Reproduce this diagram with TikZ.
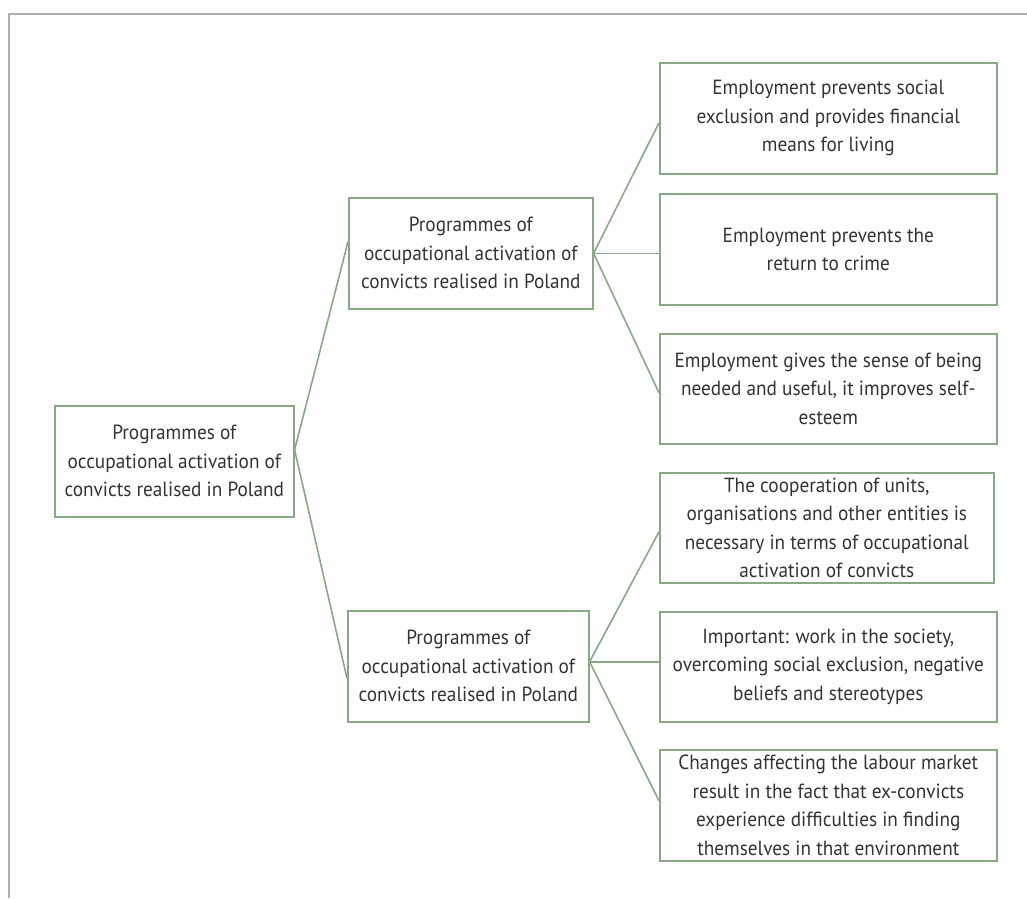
\documentclass[tikz,border=0pt]{standalone}
\usepackage{fontspec}
\setmainfont{PT Sans}[FakeStretch=0.94]
\definecolor{boxgreen}{RGB}{137,168,133}
\definecolor{txtgray}{RGB}{51,51,51}
\definecolor{framegray}{RGB}{175,175,175}
\begin{document}
\begin{tikzpicture}[x=1pt,y=-1pt,
  boxnode/.style={draw=boxgreen, line width=1.6pt, inner sep=0pt, anchor=north west,
    align=center, text=txtgray, font=\fontsize{20.5}{28.5}\selectfont},
  link/.style={draw=boxgreen, line width=1.6pt}]
\useasboundingbox (0,0) rectangle (1027,898);
\draw[framegray, line width=1.5pt] (1027,14) -- (9,14) -- (9,898);

\node[boxnode, minimum width=239pt, minimum height=111pt] (root) at (54,405)
  {Programmes of\\occupational activation of\\convicts realised in Poland};
\node[boxnode, minimum width=244pt, minimum height=111pt] (mid1) at (348,197)
  {Programmes of\\occupational activation of\\convicts realised in Poland};
\node[boxnode, minimum width=241pt, minimum height=111pt] (mid2) at (347,610)
  {Programmes of\\occupational activation of\\convicts realised in Poland};

\node[boxnode, minimum width=337pt, minimum height=111pt] (l1) at (659,62)
  {Employment prevents social\\exclusion and provides financial\\means for living};
\node[boxnode, minimum width=337pt, minimum height=111pt] (l2) at (659,193)
  {Employment prevents the\\return to crime};
\node[boxnode, minimum width=337pt, minimum height=110pt] (l3) at (659,333)
  {Employment gives the sense of being\\needed and useful, it improves self-\\esteem};
\node[boxnode, minimum width=334pt, minimum height=110pt] (l4) at (659,472)
  {The cooperation of units,\\organisations and other entities is\\necessary in terms of occupational\\activation of convicts};
\node[boxnode, minimum width=337pt, minimum height=110pt] (l5) at (659,611)
  {Important: work in the society,\\overcoming social exclusion, negative\\beliefs and stereotypes};
\node[boxnode, minimum width=337pt, minimum height=111pt] (l6) at (659,749)
  {Changes affecting the labour market\\result in the fact that ex-convicts\\experience difficulties in finding\\themselves in that environment};

\coordinate (rootout) at ([yshift=11.5pt]root.east);
\coordinate (m1out) at (mid1.east);
\coordinate (m2out) at ([yshift=4.5pt]mid2.east);

\draw[link] (rootout) -- ([yshift=11.5pt]mid1.west);
\draw[link] (rootout) -- ([yshift=-12pt]mid2.west);

\draw[link] (m1out) -- ([yshift=-4.5pt]l1.west);
\draw[link] (m1out) -- (m1out -| l2.west);
\draw[link] (m1out) -- ([yshift=-4pt]l3.west);

\draw[link] (m2out) -- ([yshift=-4pt]l4.west);
\draw[link] (m2out) -- (m2out -| l5.west);
\draw[link] (m2out) -- ([yshift=4.5pt]l6.west);
\end{tikzpicture}
\end{document}
